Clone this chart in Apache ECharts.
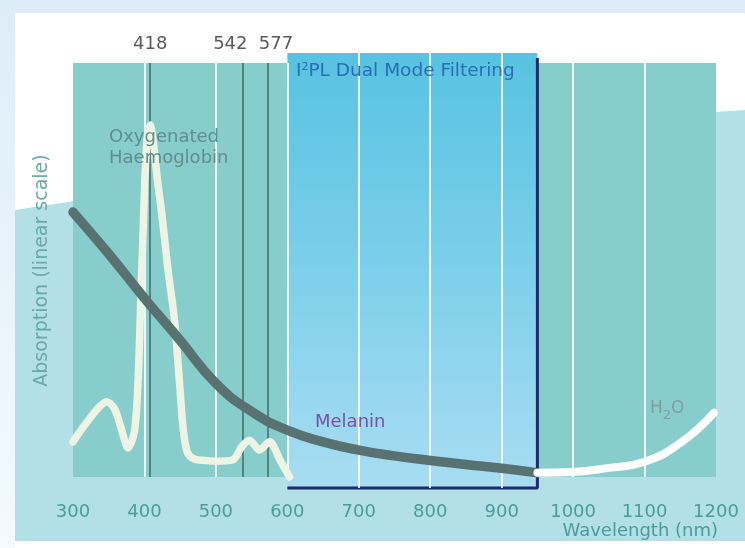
<!DOCTYPE html>
<html><head><meta charset="utf-8">
<script src="https://cdn.jsdelivr.net/npm/echarts@6/dist/echarts.min.js"></script>
<style>html,body{margin:0;padding:0;background:#fff}#c{width:745px;height:548px}</style>
</head><body><div id="c"></div>
<script>
// ---- data ----
const xTicks = [300, 400, 500, 600, 700, 800, 900, 1000, 1100, 1200];
const gridWavelengths = [400, 500, 600, 700, 800, 900, 1000, 1100];
const filterRange = [600, 950];
const peakLabels = ['418', '542', '577'];
const peakLinePositions = [408, 537, 573];

const melaninX = [300, 350, 400, 450, 500, 550, 600, 650, 700, 750, 800, 850, 900, 950];
const melaninY = [64, 53.9, 43.2, 33, 22.6, 15.8, 11.3, 8.5, 6.5, 5.1, 4.0, 3.0, 2.1, 1.0];

const haemoX = [300, 312, 325, 336, 347, 358, 367, 377, 386, 391, 394, 399, 403, 408, 413, 418, 424, 433, 442, 449, 454, 460, 470, 485, 500, 523, 537, 547, 561, 575, 590, 603];
const haemoY = [8.5, 11.5, 14.5, 16.8, 18.2, 16.5, 12, 7, 11, 23, 38, 64, 80, 85, 80, 72, 64, 50, 38, 23, 12, 6, 4.3, 4, 3.8, 4.1, 7.5, 8.9, 6.5, 8.5, 4, 0];

const waterX = [950, 1000, 1050, 1100, 1150, 1197];
const waterY = [1.0, 1.2, 2.2, 3.7, 8.2, 15.5];

// ---- chart ----
const zip = (xs, ys) => xs.map((x, i) => [x, ys[i]]);
const Y_MIN = -2.66, Y_MAX = 102.42;
const chart = echarts.init(document.getElementById('c'));
const font = 'DejaVu Sans';
const inFilter = v => v > filterRange[0] && v < filterRange[1];
const peakDx = [0, -12, 8];
const grad = (stops) => ({ type: 'linear', x: 0, y: 0, x2: 0, y2: 1,
  colorStops: stops.map(s => ({ offset: s[0], color: s[1] })) });

// decorative background wave (cubic bezier outline)
const wavePts = [];
(function () {
  const p0 = [15, 210], p1 = [250, 175], p2 = [500, 125], p3 = [745, 110];
  for (let i = 0; i <= 40; i++) {
    const t = i / 40, u = 1 - t;
    wavePts.push([
      u*u*u*p0[0] + 3*u*u*t*p1[0] + 3*u*t*t*p2[0] + t*t*t*p3[0],
      u*u*u*p0[1] + 3*u*u*t*p1[1] + 3*u*t*t*p2[1] + t*t*t*p3[1]]);
  }
  wavePts.push([745, 541], [15, 541]);
})();

chart.setOption({
  animation: false,
  textStyle: { fontFamily: font },
  grid: { left: 73, right: 29, top: 53, bottom: 60 },
  xAxis: {
    type: 'value', min: xTicks[0], max: xTicks[xTicks.length - 1], interval: 100,
    axisLine: { show: false }, axisTick: { show: false }, splitLine: { show: false },
    axisLabel: { color: '#4b9d9d', fontSize: 18, margin: 15, fontFamily: font,
      formatter: v => xTicks.includes(v) ? String(v) : '' }
  },
  yAxis: {
    type: 'value', min: Y_MIN, max: Y_MAX,
    axisLine: { show: false }, axisTick: { show: false }, splitLine: { show: false },
    axisLabel: { show: false },
    name: 'Absorption (linear scale)', nameLocation: 'middle', nameGap: 21, nameRotate: 90,
    nameTextStyle: { color: '#6aa9a9', fontSize: 19, fontFamily: font }
  },
  graphic: [
    { type: 'rect', z: -100, silent: true, shape: { x: 0, y: 0, width: 745, height: 548 },
      style: { fill: grad([[0, '#dcedf8'], [1, '#f4fafd']]) } },
    { type: 'rect', z: -99, silent: true, shape: { x: 15, y: 13, width: 730, height: 535 }, style: { fill: '#ffffff' } },
    { type: 'polygon', z: -98, silent: true, shape: { points: wavePts }, style: { fill: '#b3dfe6' } },
    { type: 'text', z: 100, left: 109, top: 127, silent: true,
      style: { text: 'Oxygenated\nHaemoglobin', fill: '#5f8f8f', font: '18px ' + font, lineHeight: 21 } },
    { type: 'text', z: 100, left: 296, top: 62, silent: true,
      style: { text: '{a|I}{s|2}{a|PL Dual Mode Filtering}', fill: '#2c6db5', font: '18px ' + font,
        rich: { a: { fontSize: 18.5, fill: '#2c6db5', fontFamily: font, verticalAlign: 'bottom' },
                s: { fontSize: 11, fill: '#2c6db5', fontFamily: font, verticalAlign: 'top', padding: [0, 0, 7, 0] } } } },
    { type: 'text', z: 100, left: 315, top: 413, silent: true,
      style: { text: 'Melanin', fill: '#7b4fa8', font: '18px ' + font } },
    { type: 'text', z: 100, left: 650, top: 400, silent: true,
      style: { text: '{a|H}{s|2}{a|O}', font: '17px ' + font,
        rich: { a: { fontSize: 17, fill: '#7f9f9f', fontFamily: font, verticalAlign: 'top' },
                s: { fontSize: 13, fill: '#7f9f9f', fontFamily: font, verticalAlign: 'bottom', padding: [9, 0, 0, 0] } } } },
    { type: 'text', z: 100, right: 27, top: 522, silent: true,
      style: { text: 'Wavelength (nm)', fill: '#4b9d9d', font: '18px ' + font } }
  ],
  series: [
    { // panels
      type: 'line', data: [], z: 1, silent: true,
      markArea: { silent: true, z: 1, data: [
        [{ xAxis: xTicks[0], yAxis: 0, itemStyle: { color: '#86cdcc' } }, { xAxis: filterRange[0], yAxis: 100 }],
        [{ xAxis: filterRange[1], yAxis: 0, itemStyle: { color: '#86cdcc' } }, { xAxis: xTicks[xTicks.length - 1], yAxis: 100 }],
        [{ xAxis: filterRange[0], yAxis: Y_MIN, itemStyle: { color: grad([[0, '#56c3e1'], [0.5, '#7dcfea'], [1, '#a8ddf2']]) } },
         { xAxis: filterRange[1], yAxis: Y_MAX }]
      ] }
    },
    { // white grid lines
      type: 'line', data: [], z: 2, silent: true,
      markLine: { silent: true, symbol: 'none', label: { show: false },
        lineStyle: { color: 'rgba(255,255,255,0.85)', width: 2, type: 'solid' },
        data: gridWavelengths.map(v => [
          { coord: [v, inFilter(v) ? Y_MIN : 0] }, { coord: [v, inFilter(v) ? Y_MAX : 100] }]) }
    },
    { // peak lines
      type: 'line', data: [], z: 3, silent: true,
      markLine: { silent: true, symbol: 'none',
        lineStyle: { color: '#3e6a6a', width: 1.5, type: 'solid' },
        label: { show: true, position: 'end', distance: 10, color: '#5a5a5a', fontSize: 18, fontFamily: font },
        data: peakLinePositions.map((v, i) => [
          { coord: [v, 0], label: { formatter: peakLabels[i], offset: [peakDx[i], 0] } },
          { coord: [v, 100] }]) }
    },
    { // filter border
      type: 'line', z: 4, silent: true, clip: false, symbol: 'none',
      lineStyle: { color: '#1b2c6c', width: 3 },
      data: [[filterRange[0], Y_MIN], [filterRange[1], Y_MIN], [filterRange[1], 101.2]]
    },
    { name: 'Oxygenated Haemoglobin', type: 'line', z: 5, symbol: 'none', smooth: 0.3, clip: false,
      lineStyle: { color: '#eef4e4', width: 7.5, cap: 'round', join: 'round' },
      data: zip(haemoX, haemoY) },
    { name: 'Melanin', type: 'line', z: 6, symbol: 'none', smooth: 0.5, clip: false,
      lineStyle: { color: '#587272', width: 9.5, cap: 'round', join: 'round' },
      data: zip(melaninX, melaninY) },
    { name: 'H2O', type: 'line', z: 6, symbol: 'none', smooth: 0.5, clip: false,
      lineStyle: { color: '#ffffff', width: 8, cap: 'round', join: 'round' },
      data: zip(waterX, waterY) }
  ]
});
</script></body></html>
